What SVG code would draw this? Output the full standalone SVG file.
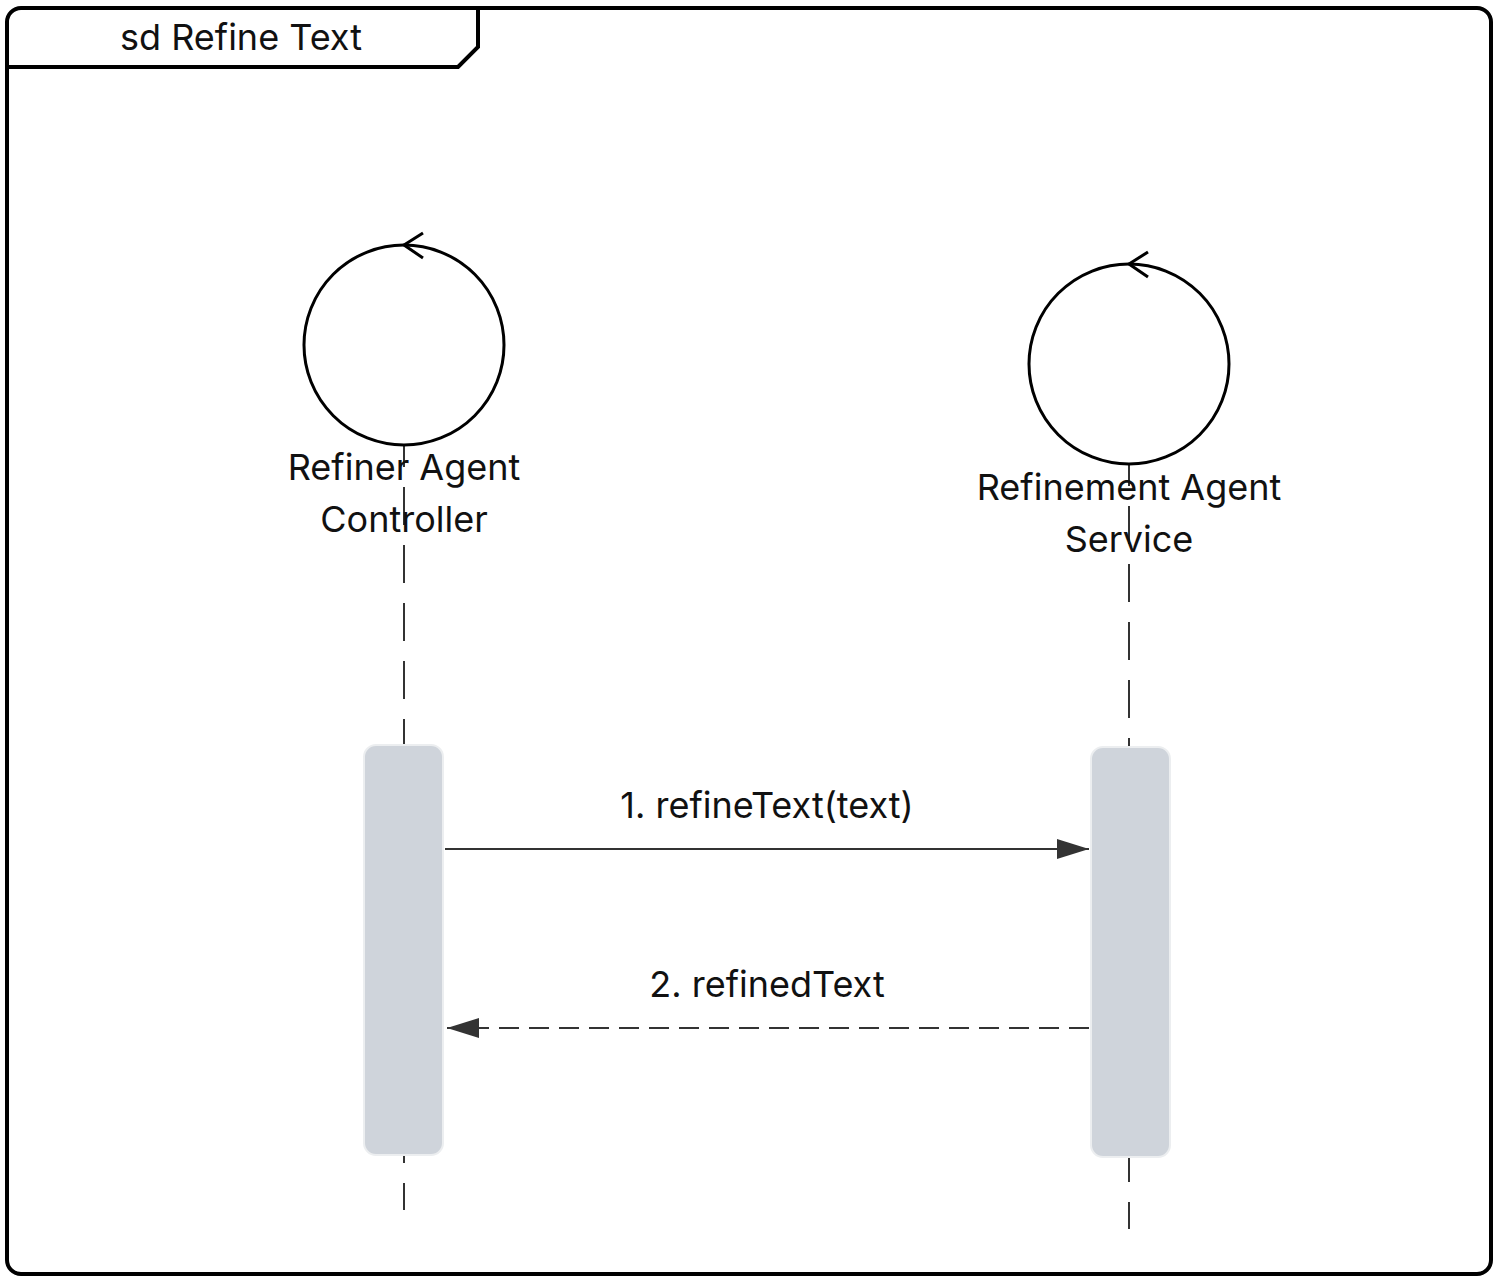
<svg xmlns="http://www.w3.org/2000/svg" width="1498" height="1282" viewBox="0 0 1498 1282">
<style>
text{font-family:Inter,"Noto Sans","Liberation Sans",sans-serif;font-size:36px;fill:#111;text-anchor:middle}
.frame{fill:none;stroke:#000;stroke-width:4}
.ctrl{fill:none;stroke:#000;stroke-width:3}
.life{stroke:#333;stroke-width:2;stroke-dasharray:38 20;stroke-dashoffset:16;fill:none}
.act{fill:#cfd4db;stroke:#eceef0;stroke-width:2}
.msg{stroke:#333;stroke-width:2;fill:none}
</style>
<defs>
<marker id="arr" viewBox="0 0 32 20" refX="32" refY="10" markerWidth="32" markerHeight="20" markerUnits="userSpaceOnUse" orient="auto">
<path d="M0,0 L32,10 L0,20 Z" fill="#333"/>
</marker>
</defs>
<g id="frame">
<rect class="frame" x="7" y="8" width="1484" height="1266" rx="14"/>
<path class="frame" d="M7,67 L458,67 L478,47 L478,8"/>
<text x="241" y="50">sd Refine Text</text>
</g>
<g id="connectors">
<path class="life" d="M404,445 V1210"/>
<path class="life" d="M1129,464 V1229"/>
</g>
<g id="refiner-agent-controller">
<circle class="ctrl" cx="404" cy="345" r="100"/>
<path class="ctrl" d="M423,233 L404,245 L423,258"/>
<text x="404" y="480">Refiner Agent</text>
<text x="404" y="532">Controller</text>
<rect class="act" x="364" y="745" width="79" height="410" rx="12"/>
</g>
<g id="refinement-agent-service">
<circle class="ctrl" cx="1129" cy="364" r="100"/>
<path class="ctrl" d="M1148,252 L1129,264 L1148,277"/>
<text x="1129" y="500">Refinement Agent</text>
<text x="1129" y="552">Service</text>
<rect class="act" x="1091" y="747" width="79" height="410" rx="12"/>
</g>
<g id="messages">
<path class="msg" d="M445,849 H1089" marker-end="url(#arr)"/>
<text x="767" y="818">1. refineText(text)</text>
<path class="msg" d="M1089,1028 H447" stroke-dasharray="20 10" marker-end="url(#arr)"/>
<text x="767" y="997">2. refinedText</text>
</g>
</svg>
